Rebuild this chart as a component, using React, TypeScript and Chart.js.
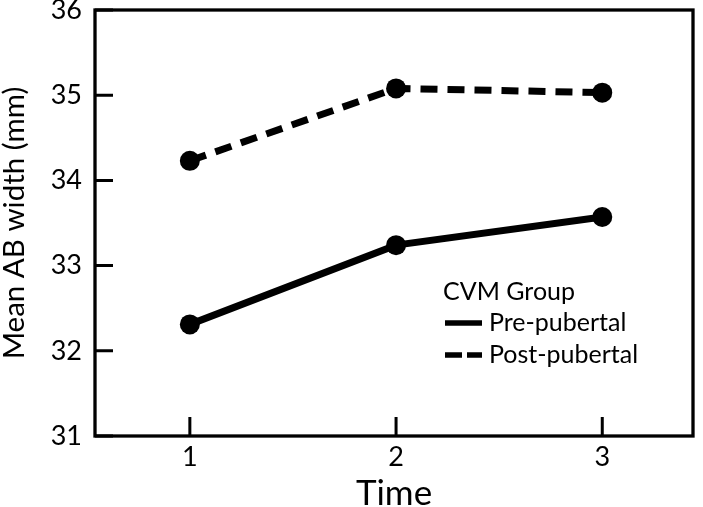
import React, { useEffect, useRef } from 'react';
import { Chart, registerables } from 'chart.js';

Chart.register(...registerables);

const timePoints = [1, 2, 3];
const prePubertal = [32.31, 33.24, 33.57];
const postPubertal = [34.23, 35.08, 35.03];
const seriesLabels = ['Pre-pubertal', 'Post-pubertal'];
const legendTitle = 'CVM Group';
const xTitle = 'Time';
const yTitle = 'Mean AB width (mm)';
const FONT = 'Lato';

const framePlugin = {
  id: 'frameTicks',
  beforeDatasetsDraw(chart: any) {
    const { ctx, chartArea: a, scales } = chart;
    ctx.save();
    ctx.strokeStyle = '#000';
    ctx.lineWidth = 3.3;
    ctx.strokeRect(a.left, a.top, a.right - a.left, a.bottom - a.top);
    ctx.lineWidth = 3;
    ctx.beginPath();
    scales.y.ticks.forEach((t: any) => {
      const y = scales.y.getPixelForValue(t.value);
      ctx.moveTo(a.left, y);
      ctx.lineTo(a.left + 18, y);
    });
    scales.x.ticks.forEach((t: any) => {
      const x = scales.x.getPixelForValue(t.value);
      ctx.moveTo(x, a.bottom);
      ctx.lineTo(x, a.bottom - 19);
    });
    ctx.stroke();
    ctx.restore();
  },
  afterDraw(chart: any) {
    const { ctx } = chart;
    ctx.save();
    ctx.fillStyle = '#000';
    ctx.strokeStyle = '#000';
    ctx.font = `25px ${FONT}`;
    ctx.textBaseline = 'middle';
    ctx.textAlign = 'left';
    ctx.fillText(legendTitle, 443, 292);
    const rows = [323, 355];
    chart.data.datasets.forEach((ds: any, i: number) => {
      const y = rows[i];
      ctx.lineWidth = 5.5;
      ctx.setLineDash(ds.borderDash && ds.borderDash.length ? [17, 5] : []);
      ctx.beginPath();
      ctx.moveTo(445, y);
      ctx.lineTo(482, y);
      ctx.stroke();
      ctx.setLineDash([]);
      ctx.fillText(ds.label, 489, y);
    });
    ctx.restore();
  },
};

export default function App() {
  const ref = useRef<HTMLCanvasElement | null>(null);
  useEffect(() => {
    if (!ref.current) return;
    Chart.defaults.font.family = FONT;
    const chart = new Chart(ref.current, {
      type: 'line',
      data: {
        datasets: [
          {
            label: seriesLabels[0],
            data: timePoints.map((x, i) => ({ x, y: prePubertal[i] })),
            borderColor: '#000',
            backgroundColor: '#000',
            borderWidth: 7,
            pointRadius: 10,
            pointBackgroundColor: '#000',
            pointBorderWidth: 0,
            borderDash: [],
          },
          {
            label: seriesLabels[1],
            data: timePoints.map((x, i) => ({ x, y: postPubertal[i] })),
            borderColor: '#000',
            backgroundColor: '#000',
            borderWidth: 7,
            borderDash: [17, 10],
            pointRadius: 10,
            pointBackgroundColor: '#000',
            pointBorderWidth: 0,
          },
        ],
      },
      options: {
        animation: false,
        responsive: true,
        maintainAspectRatio: false,
        layout: { padding: { top: 9, right: 3, left: 0, bottom: 0 } },
        plugins: { legend: { display: false }, tooltip: { enabled: false } },
        scales: {
          x: {
            type: 'linear',
            min: 0.54,
            max: 3.44,
            grid: { display: false, drawTicks: false },
            border: { display: false },
            afterBuildTicks: (s: any) => {
              s.ticks = timePoints.map((v) => ({ value: v }));
            },
            afterFit: (s: any) => {
              s.height = 71;
              s.paddingLeft = 0;
              s.paddingRight = 0;
            },
            ticks: {
              color: '#000',
              font: { size: 27, family: FONT },
              padding: 5,
              maxRotation: 0,
              callback: (v: any) => String(v),
            },
            title: {
              display: true,
              text: xTitle,
              color: '#000',
              font: { size: 35, family: FONT, lineHeight: 1 },
              padding: { top: 0, bottom: -4 },
            },
          },
          y: {
            type: 'linear',
            min: 31,
            max: 36,
            grid: { display: false, drawTicks: false },
            border: { display: false },
            afterFit: (s: any) => {
              s.width = 95;
              s.paddingTop = 0;
              s.paddingBottom = 0;
            },
            ticks: {
              stepSize: 1,
              color: '#000',
              font: { size: 27, family: FONT },
              padding: 13,
            },
            title: {
              display: true,
              text: yTitle,
              color: '#000',
              font: { size: 29.5, family: FONT, lineHeight: 1 },
              padding: { top: -0.5, bottom: 0 },
            },
          },
        },
      },
      plugins: [framePlugin],
    });
    return () => chart.destroy();
  }, []);
  return (
    <div style={{ position: 'absolute', left: 0, top: 0, width: 703, height: 507, background: '#fff' }}>
      <canvas ref={ref} />
    </div>
  );
}
